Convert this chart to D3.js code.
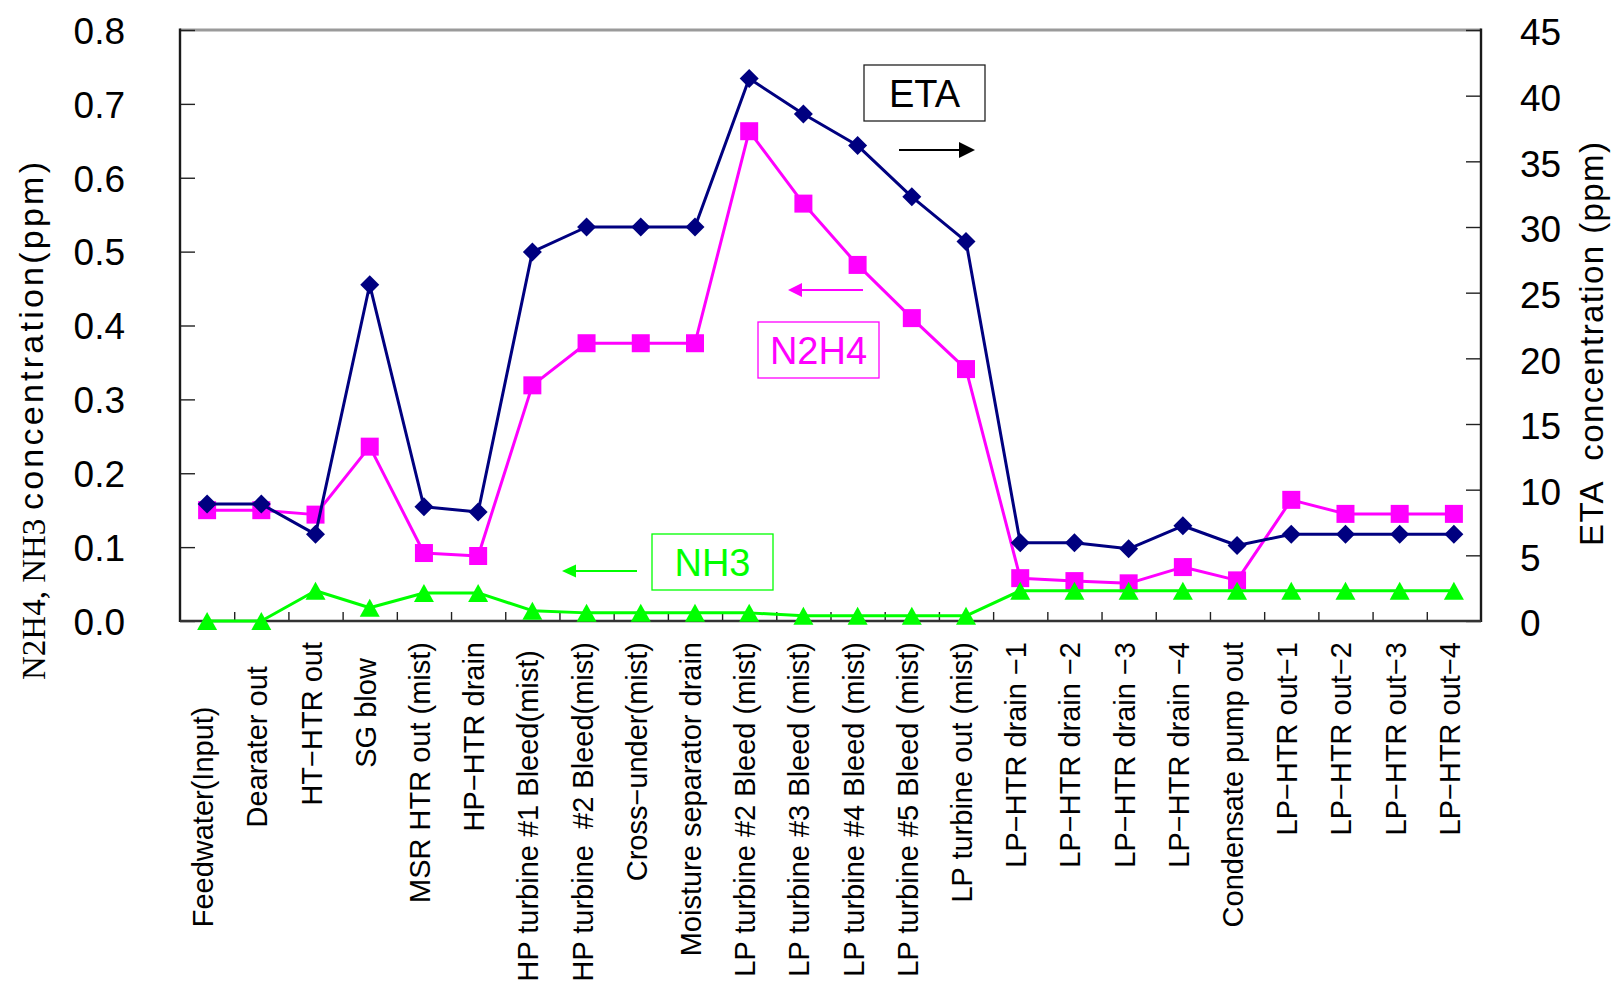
<!DOCTYPE html>
<html>
<head>
<meta charset="utf-8">
<script src="https://cdn.jsdelivr.net/npm/d3@7"></script>
<style>
  html, body { margin: 0; padding: 0; background: #fff; }
  svg { display: block; font-family: "Liberation Sans", Arial, sans-serif; }
  .cat { white-space: pre; }
</style>
</head>
<body>
<svg id="chart" width="1614" height="985"></svg>
<script>
// Sampling points along the plant cycle (labels keep their original padding)
const categories = [
  "Feedwater(Input)\u00a0\u00a0\u00a0\u00a0\u00a0\u00a0\u00a0\u00a0",
  "Dearater out\u00a0\u00a0\u00a0",
  "HT\u2212HTR out",
  "SG blow\u00a0\u00a0",
  "MSR HTR out (mist)",
  "HP\u2212HTR drain",
  "HP turbine #1 Bleed(mist)\u00a0",
  "HP turbine  #2 Bleed(mist)",
  "Cross\u2212under(mist)",
  "Moisture separator drain",
  "LP turbine #2 Bleed (mist)",
  "LP turbine #3 Bleed (mist)",
  "LP turbine #4 Bleed (mist)",
  "LP turbine #5 Bleed (mist)",
  "LP turbine out (mist)",
  "LP\u2212HTR drain \u22121",
  "LP\u2212HTR drain \u22122",
  "LP\u2212HTR drain \u22123",
  "LP\u2212HTR drain \u22124",
  "Condensate pump out",
  "LP\u2212HTR out\u22121",
  "LP\u2212HTR out\u22122",
  "LP\u2212HTR out\u22123",
  "LP\u2212HTR out\u22124"
];

// N2H4 concentration (ppm), left axis
const n2h4Values = [0.150, 0.150, 0.144, 0.236, 0.092, 0.088, 0.319, 0.376, 0.376, 0.376,
                    0.663, 0.565, 0.482, 0.410, 0.341, 0.058, 0.054, 0.051, 0.073, 0.055,
                    0.164, 0.145, 0.145, 0.145];

// NH3 concentration (ppm), left axis
const nh3Values = [0.000, 0.000, 0.041, 0.018, 0.038, 0.038, 0.014, 0.011, 0.011, 0.011,
                   0.011, 0.007, 0.007, 0.007, 0.007, 0.041, 0.041, 0.041, 0.041, 0.041,
                   0.041, 0.041, 0.041, 0.041];

// ETA concentration (ppm), right axis
const etaValues = [8.9, 8.9, 6.6, 25.6, 8.7, 8.3, 28.1, 30.0, 30.0, 30.0,
                   41.3, 38.6, 36.2, 32.3, 28.9, 5.95, 5.95, 5.5, 7.25, 5.75,
                   6.6, 6.6, 6.6, 6.6];

const leftTicks = [0, 0.1, 0.2, 0.3, 0.4, 0.5, 0.6, 0.7, 0.8];
const rightTicks = [0, 5, 10, 15, 20, 25, 30, 35, 40, 45];

const svg = d3.select("#chart");
const plot = { left: 180, right: 1481, top: 30, bottom: 621 };

const x = d3.scaleBand().domain(d3.range(categories.length)).range([plot.left, plot.right]);
const xEdge = d3.scaleLinear().domain([0, categories.length]).range([plot.left, plot.right]);
const yL = d3.scaleLinear().domain([0, 0.8]).range([plot.bottom, plot.top]);
const yR = d3.scaleLinear().domain([0, 45]).range([plot.bottom, plot.top]);
const cx = i => x(i) + x.bandwidth() / 2;

// Plot frame: grey top edge, dark axis lines
svg.append("line").attr("x1", plot.left).attr("x2", plot.right).attr("y1", plot.top).attr("y2", plot.top)
  .attr("stroke", "#9a9a9a").attr("stroke-width", 3);

// Left axis
const gL = svg.append("g").attr("transform", `translate(${plot.left},0)`)
  .call(d3.axisLeft(yL).tickValues(leftTicks).tickSize(-15).tickPadding(55).tickFormat(d3.format(".1f")));
// Right axis
const gR = svg.append("g").attr("transform", `translate(${plot.right},0)`)
  .call(d3.axisRight(yR).tickValues(rightTicks).tickSize(-15).tickPadding(39).tickFormat(d3.format("d")));
// Bottom axis: ticks at category boundaries
const gB = svg.append("g").attr("transform", `translate(0,${plot.bottom})`)
  .call(d3.axisBottom(xEdge).tickValues(d3.range(1, categories.length)).tickSize(-9).tickFormat(""));

[gL, gR, gB].forEach(g => {
  g.select(".domain").remove();
  g.selectAll(".tick line").attr("stroke", "#222").attr("stroke-width", 1.4);
  g.selectAll(".tick text").attr("font-family", "'Liberation Sans', Arial, sans-serif")
    .attr("font-size", 37).attr("fill", "#000");
});
gL.selectAll(".tick text").attr("dy", "0.36em");
gR.selectAll(".tick text").attr("dy", "0.4em");

svg.append("line").attr("x1", plot.left).attr("x2", plot.left).attr("y1", plot.top - 1.5).attr("y2", plot.bottom + 1)
  .attr("stroke", "#1a1a1a").attr("stroke-width", 2.4);
svg.append("line").attr("x1", plot.right).attr("x2", plot.right).attr("y1", plot.top - 1.5).attr("y2", plot.bottom + 1)
  .attr("stroke", "#1a1a1a").attr("stroke-width", 2.4);
svg.append("line").attr("x1", plot.left).attr("x2", plot.right).attr("y1", plot.bottom).attr("y2", plot.bottom)
  .attr("stroke", "#333").attr("stroke-width", 2.4);

// Category labels, rotated to read upward
svg.append("g").selectAll("text").data(categories).join("text")
  .attr("class", "cat")
  .attr("transform", (d, i) => `translate(${cx(i) + 6},642) rotate(-90)`)
  .attr("text-anchor", "end")
  .attr("font-size", 29)
  .attr("fill", "#000")
  .text(d => d);

// Axis titles
svg.append("text")
  .attr("transform", "translate(45,680) rotate(-90)")
  .attr("font-family", "'Liberation Serif', 'Times New Roman', serif")
  .attr("font-size", 33)
  .text("N2H4, NH3");
svg.append("text")
  .attr("transform", "translate(43,510) rotate(-90)")
  .attr("font-size", 34)
  .attr("textLength", 348).attr("lengthAdjust", "spacing")
  .text("concentration(ppm)");
svg.append("text")
  .attr("class", "cat")
  .attr("transform", "translate(1603,546) rotate(-90)")
  .attr("font-size", 33)
  .attr("textLength", 404).attr("lengthAdjust", "spacing")
  .text("ETA  concentration (ppm)");

// Series
const line = yScale => d3.line().x((d, i) => cx(i)).y(d => yScale(d));

const series = [
  { values: n2h4Values, scale: yL, color: "#ff00ff", shape: "square" },
  { values: nh3Values, scale: yL, color: "#00ff00", shape: "triangle" },
  { values: etaValues, scale: yR, color: "#000080", shape: "diamond" }
];

const markerPath = {
  square: "M-9,-9H9V9H-9Z",
  triangle: "M0,-9L10,9L-10,9Z",
  diamond: "M0,-9.5L9.5,0L0,9.5L-9.5,0Z"
};

series.forEach(s => {
  svg.append("path").datum(s.values)
    .attr("d", line(s.scale))
    .attr("fill", "none").attr("stroke", s.color).attr("stroke-width", 3)
    .attr("stroke-linejoin", "round");
  svg.append("g").selectAll("path").data(s.values).join("path")
    .attr("transform", (d, i) => `translate(${cx(i)},${s.scale(d)})`)
    .attr("d", markerPath[s.shape])
    .attr("fill", s.color);
});

// Annotation boxes with arrows pointing to each series' axis
const notes = [
  { label: "ETA", color: "#000", box: [864, 65, 121, 56], border: "#222",
    arrow: [899, 975, 150], head: 16, half: 8 },
  { label: "N2H4", color: "#ff00ff", box: [758, 322, 121, 56], border: "#ff00ff",
    arrow: [863, 788, 290], head: 14, half: 7 },
  { label: "NH3", color: "#00ff00", box: [652, 534, 121, 56], border: "#00ff00",
    arrow: [637, 562, 571], head: 14, half: 6.5 }
];

notes.forEach(n => {
  const [bx, by, bw, bh] = n.box;
  svg.append("rect").attr("x", bx).attr("y", by).attr("width", bw).attr("height", bh)
    .attr("fill", "#fff").attr("stroke", n.border).attr("stroke-width", 1.3);
  svg.append("text").attr("x", bx + bw / 2).attr("y", by + bh / 2)
    .attr("dy", "0.36em").attr("text-anchor", "middle")
    .attr("font-size", 38).attr("fill", n.color).text(n.label);
  const [x1, x2, ay] = n.arrow;
  const dir = Math.sign(x2 - x1);
  svg.append("line").attr("x1", x1).attr("x2", x2 - dir * n.head).attr("y1", ay).attr("y2", ay)
    .attr("stroke", n.color).attr("stroke-width", 2);
  svg.append("path")
    .attr("d", `M${x2},${ay}L${x2 - dir * n.head},${ay - n.half}L${x2 - dir * n.head},${ay + n.half}Z`)
    .attr("fill", n.color);
});
</script>
</body>
</html>
